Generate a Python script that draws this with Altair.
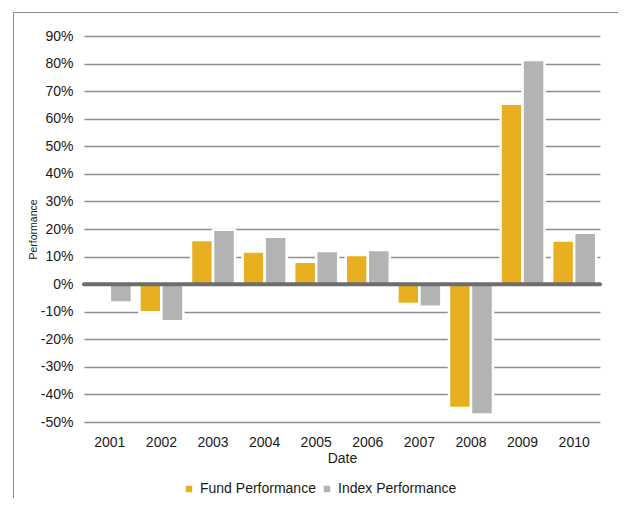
import altair as alt
import pandas as pd

years = ["2001", "2002", "2003", "2004", "2005", "2006", "2007", "2008", "2009", "2010"]
fund = [0.0, -0.102, 0.160, 0.118, 0.081, 0.106, -0.072, -0.449, 0.654, 0.158]
index = [-0.067, -0.135, 0.197, 0.172, 0.120, 0.124, -0.082, -0.473, 0.813, 0.186]
series = ["Fund Performance", "Index Performance"]
colors = ["#E8B021", "#B3B3B3"]
y_ticks = [-0.5, -0.4, -0.3, -0.2, -0.1, 0.0, 0.1, 0.2, 0.3, 0.4, 0.5, 0.6, 0.7, 0.8, 0.9]

rows = []
for i, yr in enumerate(years):
    rows.append({"Date": yr, "Series": series[0], "Performance": fund[i]})
    rows.append({"Date": yr, "Series": series[1], "Performance": index[i]})
df = pd.DataFrame(rows)

W, H = 516, 386

yaxis = alt.Axis(title="Performance", values=y_ticks, domain=False, ticks=False, tickSize=0,
                 labelExpr="(datum.value < -0.0001 ? '-' : '') + format(abs(datum.value), '.0%')",
                 labelOverlap=False,
                 labelFontSize=14, labelPadding=11, labelColor="#1a1a1a",
                 titleFontSize=10.5, titleFontWeight="normal", titleColor="#1a1a1a",
                 titlePadding=2,
                 grid=True, gridColor="#8f8f8f", gridWidth=1.3)
yscale = alt.Scale(domain=[-0.5, 0.9], nice=False, zero=False)

frame = alt.Chart(pd.DataFrame({"f": [0]})).mark_rect(
    fill="white", fillOpacity=0, stroke="#8c8c8c", strokeWidth=1
).encode(
    x=alt.value(-70.5), x2=alt.value(700), y=alt.value(-23.5), y2=alt.value(700)
)

bars = alt.Chart(df).mark_bar(stroke="white", strokeWidth=2.5).encode(
    x=alt.X("Date:N", sort=years,
            scale=alt.Scale(paddingInner=0.147, paddingOuter=0.074),
            axis=alt.Axis(title="Date", labelAngle=0, domain=False, ticks=False, tickSize=0,
                          labelFontSize=14, labelPadding=13, labelColor="#1a1a1a",
                          titleFontSize=14, titleFontWeight="normal", titleColor="#1a1a1a",
                          titlePadding=2)),
    xOffset=alt.XOffset("Series:N", sort=series, scale=alt.Scale(paddingInner=0, paddingOuter=0)),
    y=alt.Y("Performance:Q", scale=yscale, axis=yaxis),
    color=alt.Color("Series:N", sort=series,
                    scale=alt.Scale(domain=series, range=colors),
                    legend=alt.Legend(title=None, orient="none", legendX=98, legendY=446,
                                      direction="horizontal", symbolType="square", symbolSize=42,
                                      symbolStrokeWidth=0, labelFontSize=14, labelColor="#1a1a1a",
                                      labelOffset=4, columnPadding=4, padding=0)),
)

zero = alt.Chart(pd.DataFrame({"Performance": [0.0]})).mark_rule(
    color="#6d6d6d", strokeWidth=4, strokeCap="round"
).encode(y=alt.Y("Performance:Q", scale=yscale, axis=yaxis))

chart = alt.layer(frame, bars, zero).properties(
    width=W, height=H,
    autosize=alt.AutoSizeParams(type="none"),
    padding={"left": 76, "top": 28, "right": 18, "bottom": 76},
).configure(font="Liberation Sans").configure_view(stroke=None).configure_axisY(labelOverlap=False)

chart.save("out.html", embed_options={"renderer": "svg", "actions": False})
